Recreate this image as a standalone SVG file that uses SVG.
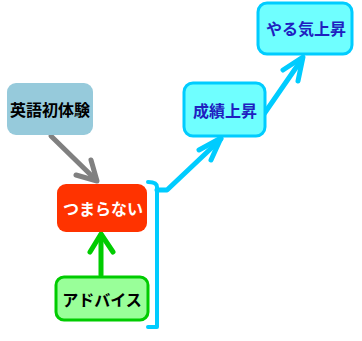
<svg xmlns="http://www.w3.org/2000/svg" width="362" height="341" viewBox="0 0 362 341">
<style>
text{font-family:"Noto Sans CJK JP","Noto Sans",sans-serif;font-weight:bold;font-size:16px;text-anchor:middle;dominant-baseline:central}
.cy rect{fill:#6FFFFF;stroke:#00CCFF;stroke-width:3}
.cy text{fill:#2020C0}
.ln{fill:none;stroke-linecap:round;stroke-linejoin:round}
</style>
<rect width="362" height="341" fill="#fff"/>
<g id="connectors">
<g class="ln" stroke="#808080" stroke-width="5">
<path d="M51,136 L96,180"/><path d="M76,175 L97,181 L91,160"/>
</g>
<g class="ln" stroke="#00CC00" stroke-width="5">
<path d="M101,275 L101,235"/><path d="M90,252 L101,234 L113,252"/>
</g>
<g class="ln" stroke="#00CCFF" stroke-width="4">
<path d="M148,182 Q157,182 157,187 L157,327 L148,327"/>
</g>
<g class="ln" stroke="#00CCFF" stroke-width="5">
<path d="M157,190 L167,190 L221,139"/><path d="M199,150 L221,138 L211,160"/>
<path d="M264,114 L302,59"/><path d="M283,70 L303,57 L298,81"/>
</g>
</g>
<g id="n1"><rect x="7" y="83" width="86" height="52" rx="9" fill="#96CADB"/><text x="50" y="109" fill="#000">英語初体験</text></g>
<g id="n2"><rect x="57" y="184" width="90" height="48" rx="9" fill="#FF3300"/><text x="103" y="208" fill="#fff">つまらない</text></g>
<g id="n3"><rect x="56" y="277" width="92" height="43" rx="8" fill="#99FF99" stroke="#00CC00" stroke-width="3"/><text x="102" y="298.5" fill="#000">アドバイス</text></g>
<g id="n4" class="cy"><rect x="184" y="83" width="81" height="53" rx="9"/><text x="225" y="110">成績上昇</text></g>
<g id="n5" class="cy"><rect x="258" y="3" width="94" height="51" rx="9"/><text x="306" y="28">やる気上昇</text></g>
</svg>
